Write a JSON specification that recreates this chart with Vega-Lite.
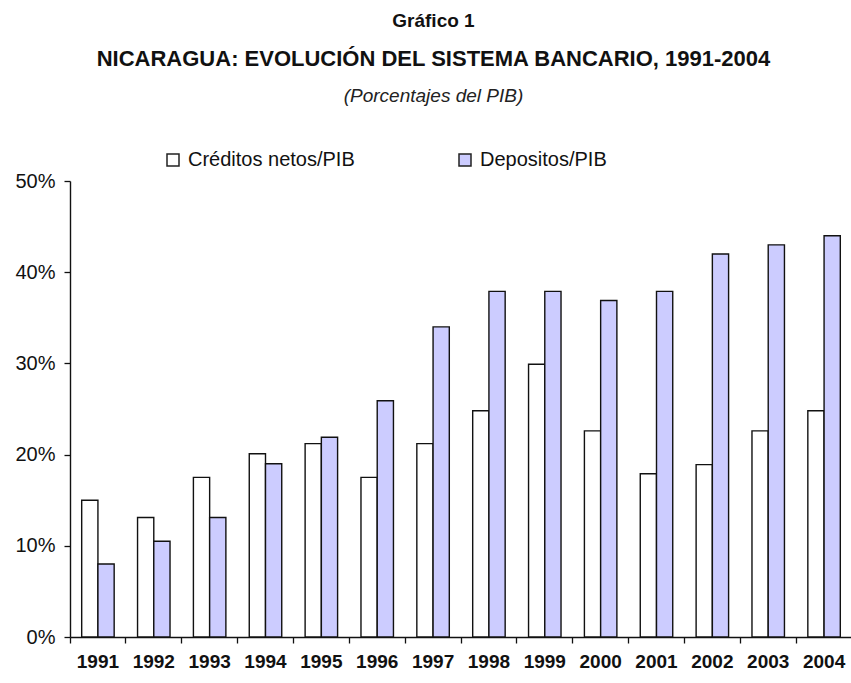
{
  "$schema": "https://vega.github.io/schema/vega-lite/v6.json",
  "padding": {"left": 14, "top": 12, "right": 0, "bottom": 4},
  "background": "white",
  "config": {
    "view": {"stroke": null},
    "font": "Liberation Sans",
    "concat": {"spacing": 0},
    "axis": {"labelFont": "Liberation Sans", "domainColor": "#111", "tickColor": "#111", "labelColor": "#111", "domainWidth": 1.4, "tickWidth": 1.3},
    "legend": {"labelFont": "Liberation Sans"}
  },
  "title": {"text": "Gráfico 1", "fontSize": 19, "fontWeight": "bold", "font": "Liberation Sans", "anchor": "middle", "color": "#111", "offset": 17, "frame": "bounds"},
  "vconcat": [
    {
      "title": {
        "text": "NICARAGUA: EVOLUCIÓN DEL SISTEMA BANCARIO, 1991-2004",
        "subtitle": "(Porcentajes del PIB)",
        "font": "Liberation Sans",
        "subtitleFont": "Liberation Sans",
        "fontSize": 22,
        "fontWeight": "bold",
        "color": "#111",
        "subtitleColor": "#222",
        "subtitleFontSize": 19,
        "subtitleFontStyle": "italic",
        "subtitlePadding": 16,
        "offset": 64,
        "anchor": "middle",
        "frame": "bounds"
      },
      "width": 782,
      "height": 456,
      "data": {
        "values": [
          {"year": "1991", "serie": "Créditos netos/PIB", "value": 0.15},
          {"year": "1991", "serie": "Depositos/PIB", "value": 0.08},
          {"year": "1992", "serie": "Créditos netos/PIB", "value": 0.131},
          {"year": "1992", "serie": "Depositos/PIB", "value": 0.105},
          {"year": "1993", "serie": "Créditos netos/PIB", "value": 0.175},
          {"year": "1993", "serie": "Depositos/PIB", "value": 0.131},
          {"year": "1994", "serie": "Créditos netos/PIB", "value": 0.201},
          {"year": "1994", "serie": "Depositos/PIB", "value": 0.19},
          {"year": "1995", "serie": "Créditos netos/PIB", "value": 0.212},
          {"year": "1995", "serie": "Depositos/PIB", "value": 0.219},
          {"year": "1996", "serie": "Créditos netos/PIB", "value": 0.175},
          {"year": "1996", "serie": "Depositos/PIB", "value": 0.259},
          {"year": "1997", "serie": "Créditos netos/PIB", "value": 0.212},
          {"year": "1997", "serie": "Depositos/PIB", "value": 0.34},
          {"year": "1998", "serie": "Créditos netos/PIB", "value": 0.248},
          {"year": "1998", "serie": "Depositos/PIB", "value": 0.379},
          {"year": "1999", "serie": "Créditos netos/PIB", "value": 0.299},
          {"year": "1999", "serie": "Depositos/PIB", "value": 0.379},
          {"year": "2000", "serie": "Créditos netos/PIB", "value": 0.226},
          {"year": "2000", "serie": "Depositos/PIB", "value": 0.369},
          {"year": "2001", "serie": "Créditos netos/PIB", "value": 0.179},
          {"year": "2001", "serie": "Depositos/PIB", "value": 0.379},
          {"year": "2002", "serie": "Créditos netos/PIB", "value": 0.189},
          {"year": "2002", "serie": "Depositos/PIB", "value": 0.42},
          {"year": "2003", "serie": "Créditos netos/PIB", "value": 0.226},
          {"year": "2003", "serie": "Depositos/PIB", "value": 0.43},
          {"year": "2004", "serie": "Créditos netos/PIB", "value": 0.248},
          {"year": "2004", "serie": "Depositos/PIB", "value": 0.44}
        ]
      },
      "mark": {"type": "bar", "stroke": "#111", "strokeWidth": 1.4},
      "encoding": {
        "x": {
          "field": "year", "type": "ordinal",
          "scale": {"paddingInner": 0, "paddingOuter": 0},
          "axis": {"title": null, "labelAngle": 0, "bandPosition": 0, "tickSize": 6, "labelFontSize": 19, "labelFontWeight": "bold", "labelPadding": 9}
        },
        "xOffset": {
          "field": "serie", "type": "nominal",
          "sort": ["Créditos netos/PIB", "Depositos/PIB"],
          "scale": {"paddingInner": 0, "paddingOuter": 0.72}
        },
        "y": {
          "field": "value", "type": "quantitative",
          "scale": {"domain": [0, 0.5]},
          "axis": {"title": null, "format": ".0%", "values": [0, 0.1, 0.2, 0.3, 0.4, 0.5], "grid": false, "tickSize": 6, "labelFontSize": 20, "labelPadding": 9}
        },
        "fill": {
          "field": "serie", "type": "nominal",
          "scale": {"domain": ["Créditos netos/PIB", "Depositos/PIB"], "range": ["#ffffff", "#ccccff"]},
          "legend": {"orient": "none", "legendX": 93, "legendY": -31, "direction": "horizontal", "title": null, "symbolType": "square", "symbolSize": 144, "symbolStrokeColor": "#222", "symbolStrokeWidth": 1.5, "labelFontSize": 20, "labelColor": "#111", "labelLimit": 300, "columnPadding": 100, "labelOffset": 5}
        }
      }
    }
  ]
}
